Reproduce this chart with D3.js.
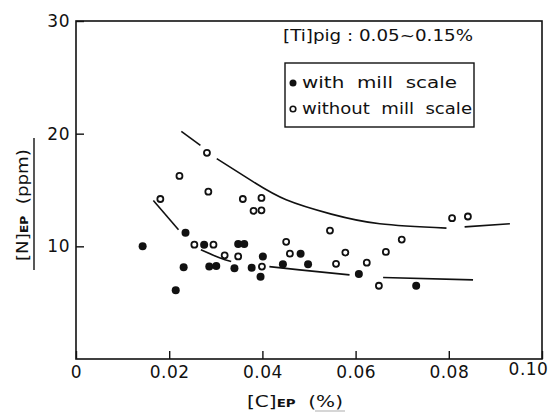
<!DOCTYPE html>
<meta charset="utf-8">
<style>
  body { margin: 0; background: #fff; }
  text { fill: #111; }
</style>
<svg width="555" height="412" font-family="DejaVu Sans" font-size="16"></svg>
<script src="https://cdn.jsdelivr.net/npm/d3@7"></script>
<script>

// [C]EP (%), [N]EP (ppm)
var withScale = [
  [0.0143, 10.0], [0.0214, 6.1], [0.0231, 8.15], [0.0235, 11.2], [0.0275, 10.15],
  [0.0286, 8.2], [0.0301, 8.25], [0.0340, 8.05], [0.0348, 10.2], [0.0361, 10.2],
  [0.0377, 8.1], [0.0396, 7.3], [0.0401, 9.1], [0.0444, 8.4], [0.0482, 9.35],
  [0.0498, 8.4], [0.0607, 7.55], [0.0730, 6.5]
];

var withoutScale = [
  [0.0181, 14.2], [0.0222, 16.25], [0.0254, 10.15], [0.0281, 18.3], [0.0284, 14.85],
  [0.0295, 10.15], [0.0319, 9.2], [0.0348, 9.1], [0.0358, 14.2], [0.0381, 13.15],
  [0.0398, 14.3], [0.0398, 13.2], [0.0399, 8.2], [0.0451, 10.4], [0.0459, 9.35],
  [0.0545, 11.4], [0.0558, 8.45], [0.0578, 9.45], [0.0624, 8.55], [0.0650, 6.5],
  [0.0665, 9.5], [0.0699, 10.6], [0.0807, 12.5], [0.0841, 12.65]
];

// hand-drawn trend curves, broken where they pass the points
var upperCurve = [
  [[0.0226, 20.2], [0.0267, 18.96]],
  [[0.0302, 17.78], [0.0379, 15.76], [0.0451, 14.13], [0.0548, 12.86], [0.0652, 12.0], [0.0795, 11.62]],
  [[0.0834, 11.73], [0.0931, 12.0]]
];

var lowerCurve = [
  [[0.0166, 14.07], [0.0220, 11.47]],
  [[0.0268, 9.69], [0.0308, 8.98], [0.0333, 8.65]],
  [[0.0415, 8.2], [0.0480, 7.91], [0.0587, 7.47]],
  [[0.0659, 7.23], [0.0852, 7.02]]
];

var xTicks = [0, 0.02, 0.04, 0.06, 0.08, 0.10];
var yTicks = [10, 20, 30];

var svg = d3.select("svg"),
    margin = {top: 21, right: 13, bottom: 53, left: 76},
    width = +svg.attr("width") - margin.left - margin.right,
    height = +svg.attr("height") - margin.top - margin.bottom,
    g = svg.append("g").attr("transform", "translate(" + margin.left + "," + margin.top + ")");

var x = d3.scaleLinear().domain([0, 0.10]).range([0, width]);
var y = d3.scaleLinear().domain([0, 30]).range([height, 0]);

g.append("rect")
    .attr("width", width)
    .attr("height", height)
    .attr("fill", "none")
    .attr("stroke", "#111")
    .attr("stroke-width", 1.6);

var xAxis = g.append("g")
    .attr("transform", "translate(0," + height + ")")
    .call(d3.axisBottom(x)
      .tickValues(xTicks)
      .tickSizeInner(-8)
      .tickSizeOuter(0)
      .tickPadding(7)
      .tickFormat(function(d) { return d === 0 ? "0" : d3.format(".2f")(d); }));

var yAxis = g.append("g")
    .call(d3.axisLeft(y)
      .tickValues(yTicks)
      .tickSizeInner(-8)
      .tickSizeOuter(0)
      .tickPadding(6));

[xAxis, yAxis].forEach(function(a) {
  a.select(".domain").remove();
  a.selectAll(".tick line").attr("stroke", "#111").attr("stroke-width", 1.4);
  a.selectAll(".tick text")
      .attr("font-family", "DejaVu Sans")
      .attr("font-size", 17)
      .attr("letter-spacing", 0.5)
      .attr("fill", "#111");
});

// last label sits inside the page edge, as in the print
xAxis.selectAll(".tick text")
    .filter(function(d) { return d === 0.10; })
    .attr("dx", -14)
    .attr("dy", "0.55em");

var line = d3.line()
    .x(function(d) { return x(d[0]); })
    .y(function(d) { return y(d[1]); })
    .curve(d3.curveNatural);

g.append("g")
  .selectAll("path")
  .data(upperCurve.concat(lowerCurve))
  .enter().append("path")
    .attr("d", line)
    .attr("fill", "none")
    .attr("stroke", "#111")
    .attr("stroke-width", 1.6);

g.append("g")
  .selectAll("circle")
  .data(withoutScale)
  .enter().append("circle")
    .attr("cx", function(d) { return x(d[0]); })
    .attr("cy", function(d) { return y(d[1]); })
    .attr("r", 3)
    .attr("fill", "#fff")
    .attr("stroke", "#111")
    .attr("stroke-width", 1.8);

g.append("g")
  .selectAll("circle")
  .data(withScale)
  .enter().append("circle")
    .attr("cx", function(d) { return x(d[0]); })
    .attr("cy", function(d) { return y(d[1]); })
    .attr("r", 4)
    .attr("fill", "#111");

// note and legend
svg.append("text")
    .attr("x", 283)
    .attr("y", 41)
    .attr("font-size", 15)
    .attr("textLength", 190)
    .attr("lengthAdjust", "spacingAndGlyphs")
    .text("[Ti]pig : 0.05~0.15%");

var legend = svg.append("g").attr("transform", "translate(285,63)");

legend.append("rect")
    .attr("width", 189)
    .attr("height", 64)
    .attr("fill", "none")
    .attr("stroke", "#111")
    .attr("stroke-width", 1.4);

var legendItems = [
  {label: "with  mill  scale", filled: true, len: 155},
  {label: "without  mill  scale", filled: false, len: 170}
];

var li = legend.selectAll(".item")
  .data(legendItems)
  .enter().append("g")
    .attr("class", "item")
    .attr("transform", function(d, i) { return "translate(0," + (20 + i * 26) + ")"; });

li.append("circle")
    .attr("cx", 8)
    .attr("r", function(d) { return d.filled ? 3.5 : 2.8; })
    .attr("fill", function(d) { return d.filled ? "#111" : "#fff"; })
    .attr("stroke", "#111")
    .attr("stroke-width", function(d) { return d.filled ? 0 : 1.6; });

li.append("text")
    .attr("x", 17)
    .attr("dy", "0.35em")
    .attr("font-size", 15)
    .attr("textLength", function(d) { return d.len; })
    .attr("lengthAdjust", "spacingAndGlyphs")
    .attr("xml:space", "preserve")
    .text(function(d) { return d.label; });

// axis titles
var yTitle = svg.append("g").attr("transform", "translate(28,205) rotate(-90)");
var yt = yTitle.append("text")
    .attr("text-anchor", "middle")
    .attr("font-size", 15)
    .attr("textLength", 112)
    .attr("lengthAdjust", "spacingAndGlyphs");
yt.append("tspan").text("[N]");
yt.append("tspan").attr("font-size", 10).attr("font-weight", "bold").text("EP");
yt.append("tspan").text("\u00a0\u00a0(ppm)");

svg.append("line")
    .attr("x1", 34).attr("x2", 34)
    .attr("y1", 138).attr("y2", 270)
    .attr("stroke", "#111")
    .attr("stroke-width", 1.4);

var xt = svg.append("text")
    .attr("x", 295)
    .attr("y", 407)
    .attr("text-anchor", "middle")
    .attr("font-size", 15)
    .attr("textLength", 96)
    .attr("lengthAdjust", "spacingAndGlyphs");
xt.append("tspan").text("[C]");
xt.append("tspan").attr("font-size", 10).attr("font-weight", "bold").text("EP");
xt.append("tspan").text("\u00a0\u00a0(%)");

svg.append("line")
    .attr("x1", 315).attr("x2", 345)
    .attr("y1", 411).attr("y2", 411)
    .attr("stroke", "#bbb")
    .attr("stroke-width", 1.2);

</script>
